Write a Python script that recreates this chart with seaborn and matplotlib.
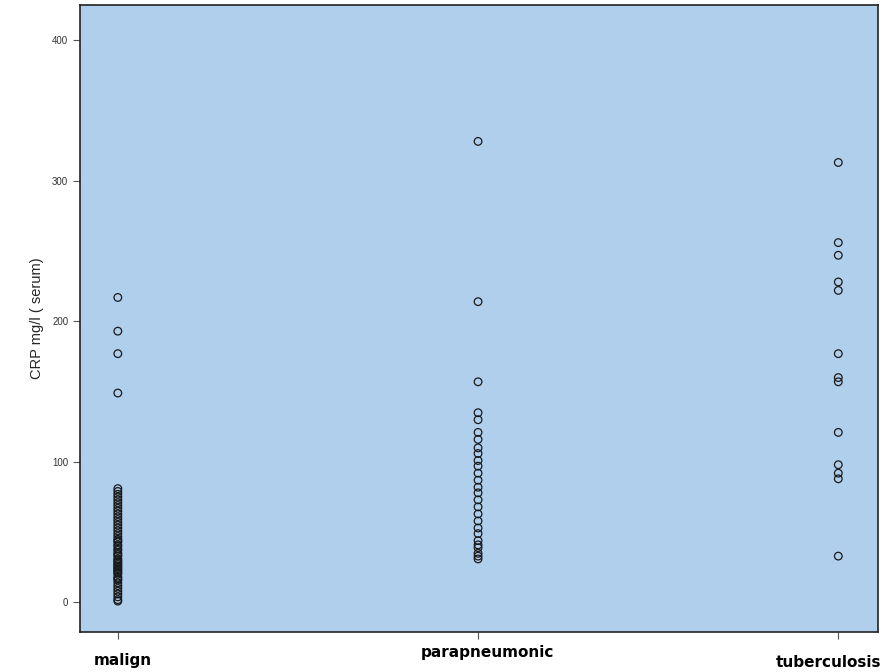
import matplotlib
import matplotlib.pyplot as plt
import matplotlib.transforms as mtransforms
import pandas as pd
import seaborn as sns

matplotlib.use('Agg')

# values
malign = [217, 193, 177, 149,
          81, 79, 77, 75, 73, 71, 69, 67, 65, 63, 61, 59, 57, 55, 53, 51,
          49, 47, 45, 44, 43, 41, 40, 38, 37, 35, 34, 33, 31, 30, 29, 28,
          27, 26, 25, 24, 23, 22, 21, 20, 18, 17, 16, 14, 12, 10, 8, 6, 4, 2, 1]
parapneumonic = [328, 214, 157, 135, 130, 121, 116, 110, 106, 101, 97, 92,
                 87, 82, 78, 73, 68, 63, 58, 53, 49, 44, 41, 39, 35, 33, 31]
tuberculosis = [313, 256, 247, 228, 222, 177, 160, 157, 121, 98, 92, 88, 33]

groups = ['malign', 'parapneumonic', 'tuberculosis']
y_ticks = [0, 100, 200, 300, 400]

df = pd.DataFrame({
    'group': ['malign'] * len(malign) + ['parapneumonic'] * len(parapneumonic)
             + ['tuberculosis'] * len(tuberculosis),
    'crp': malign + parapneumonic + tuberculosis,
})

sns.set_style('ticks')
plt.rcParams['font.family'] = ['Liberation Sans', 'DejaVu Sans']

fig = plt.figure(figsize=(8.85, 6.72), dpi=100)
ax = fig.add_axes([0.0904, 0.0595, 0.9016, 0.933])
ax.set_facecolor('#afcfec')

sns.stripplot(data=df, x='group', y='crp', order=groups, jitter=False,
              size=5.5, linewidth=0.9, ax=ax)
for c in ax.collections:
    c.set_facecolor('none')
    c.set_edgecolor('#1a1a1a')

ax.set_xlim(-0.105, 2.11)
ax.set_ylim(-21, 425)
ax.set_yticks(y_ticks)
ax.set_yticklabels([str(v) for v in y_ticks], fontsize=7, color='#333333')
ax.set_xticks(range(len(groups)))
ax.set_xticklabels(groups, fontsize=11, color='black',
                   family='DejaVu Sans', fontweight='bold')
ax.tick_params(axis='both', length=5, width=0.8, color='#555555')

# the x labels sit at slightly different places in the original (pixels)
offsets = [(5, -9), (9, -1), (-10, -11)]
for lab, (dx, dy) in zip(ax.get_xticklabels(), offsets):
    lab.set_transform(lab.get_transform() +
                      mtransforms.ScaledTranslation(dx / 100, dy / 100, fig.dpi_scale_trans))

ax.set_xlabel('')
ax.set_ylabel('CRP mg/l ( serum)', fontsize=10.5, labelpad=6)

for s in ax.spines.values():
    s.set_visible(True)
    s.set_color('#222222')
    s.set_linewidth(1.2)

plt.savefig('out.png', dpi=100)
